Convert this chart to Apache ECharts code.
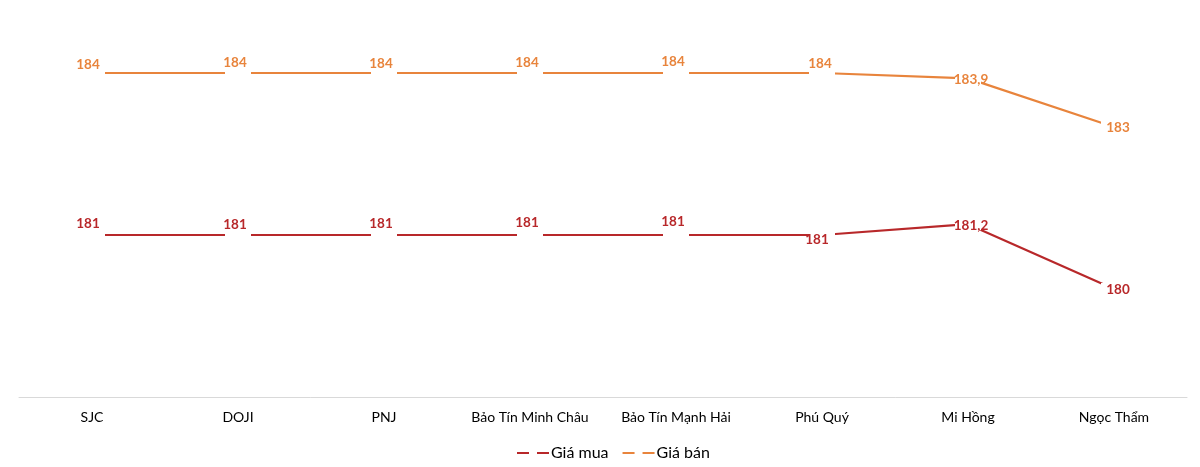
<!DOCTYPE html>
<html>
<head>
<meta charset="utf-8">
<script src="https://cdn.jsdelivr.net/npm/echarts@6/dist/echarts.min.js"></script>
<style>
html,body{margin:0;padding:0;background:#fff;}
#chart{width:1200px;height:467px;}
</style>
</head>
<body>
<div id="chart"></div>
<script>
const categories = ['SJC', 'DOJI', 'PNJ', 'Bảo Tín Minh Châu', 'Bảo Tín Mạnh Hải', 'Phú Quý', 'Mi Hồng', 'Ngọc Thẩm'];
const buyName = 'Giá mua';
const sellName = 'Giá bán';
const buyValues = [181, 181, 181, 181, 181, 181, 181.2, 180];
const sellValues = [184, 184, 184, 184, 184, 184, 183.9, 183];

// styling (label nudges per point, in px)
const buyLabelOffsets = [[-4,-11],[-3,-10],[-3,-11],[-3,-12],[-3,-13],[-5,5],[3,1],[4,1]];
const sellLabelOffsets = [[-4,-8],[-3,-10],[-3,-9],[-3,-10],[-3,-11],[-2,-9],[3,1],[4,1]];
const RED = '#B8282A';
const ORANGE = '#E8843C';
const FONT = 'Lato, "Noto Sans", sans-serif';

function fmt(v) { return String(v).replace('.', ','); }

function buildData(values, offsets) {
  return values.map((v, i) => ({
    value: v,
    label: { offset: offsets[i] }
  }));
}

function makeSeries(name, values, offsets, color) {
  return {
    name: name,
    type: 'line',
    data: buildData(values, offsets),
    symbol: 'rect',
    symbolSize: [26, 12],
    showAllSymbol: true,
    itemStyle: { color: '#ffffff', borderWidth: 0 },
    lineStyle: { color: color, width: 2.2 },
    emphasis: { disabled: true },
    label: {
      show: true,
      position: 'inside',
      color: color,
      fontFamily: FONT,
      fontWeight: 'bold',
      fontSize: 13.5,
      formatter: p => fmt(p.value)
    }
  };
}

const chart = echarts.init(document.getElementById('chart'));
chart.setOption({
  animation: false,
  backgroundColor: '#ffffff',
  grid: { left: 19, right: 13, top: 19, bottom: 70, containLabel: false },
  xAxis: {
    type: 'category',
    data: categories,
    boundaryGap: true,
    axisLine: { show: true, lineStyle: { color: '#D9D9D9', width: 1 } },
    axisTick: { show: false },
    axisLabel: { interval: 0, color: '#000000', fontFamily: FONT, fontSize: 14, margin: 13 }
  },
  yAxis: {
    type: 'value',
    min: 178,
    max: 185,
    show: false,
    splitLine: { show: false }
  },
  legend: {
    top: 440,
    left: 512,
    itemWidth: 32,
    itemHeight: 2.5,
    itemGap: 14,
    icon: 'path://M0,0H12V2H0Z M20,0H32V2H20Z',
    textStyle: { color: '#000000', fontFamily: FONT, fontSize: 16, padding: [0,0,0,-3] },
    data: [
      { name: buyName, itemStyle: { color: RED } },
      { name: sellName, itemStyle: { color: ORANGE } }
    ]
  },
  series: [
    makeSeries(buyName, buyValues, buyLabelOffsets, RED),
    makeSeries(sellName, sellValues, sellLabelOffsets, ORANGE)
  ]
});
</script>
</body>
</html>
